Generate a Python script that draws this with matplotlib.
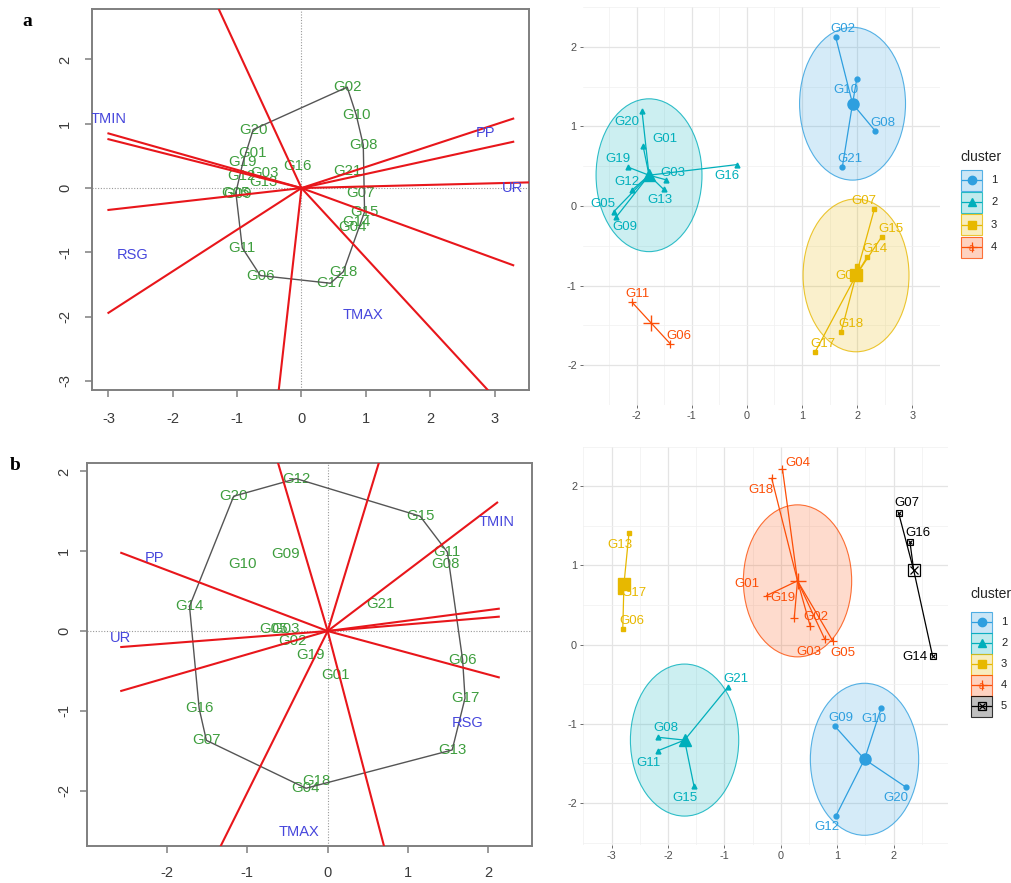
import matplotlib.pyplot as plt
import numpy as np
from matplotlib.patches import Ellipse, Rectangle

plt.rcParams['font.family'] = ['Liberation Sans', 'DejaVu Sans']
plt.rcParams['axes.unicode_minus'] = False

W, H = 1011, 883

genotypes = ['G%02d' % i for i in range(1, 22)]
env_names = ['TMIN', 'PP', 'UR', 'RSG', 'TMAX']

# --- GGE biplot, trial a (genotype scores G01..G21) ---
a_gx = [-0.76, 0.71, -0.58, 0.80, -1.02, -0.64, 0.91, 0.96, -0.99, 0.85, -0.92,
        -0.93, -0.60, 0.85, 0.98, -0.07, 0.45, 0.65, -0.91, -0.75, 0.71]
a_gy = [0.55, 1.57, 0.24, -0.60, -0.07, -1.36, -0.08, 0.67, -0.09, 1.14, -0.93,
        0.18, 0.10, -0.52, -0.37, 0.34, -1.48, -1.30, 0.40, 0.91, 0.27]
a_ex = [-3.00, 2.86, 3.28, -2.62, 0.96]
a_ey = [1.07, 0.86, 0.00, -1.04, -1.97]
# sector rays (end points, from the origin)
a_rx = [-1.28, -3.00, -3.00, -3.00, -3.00, -0.36, 2.95, 3.29, 3.60, 3.29, 3.29]
a_ry = [2.77, 0.85, 0.76, -0.34, -1.94, -3.20, -3.20, -1.20, 0.09, 0.72, 1.08]

# --- GGE biplot, trial b ---
b_gx = [0.10, -0.44, -0.52, -0.27, -0.68, 1.68, -1.51, 1.47, -0.52, -1.06, 1.49,
        -0.39, 1.55, -1.72, 1.15, -1.60, 1.71, -0.14, -0.22, -1.17, 0.66]
b_gy = [-0.55, -0.12, 0.03, -1.97, 0.03, -0.36, -1.37, 0.84, 0.97, 0.84, 0.99,
        1.91, -1.49, 0.31, 1.44, -0.97, -0.84, -1.88, -0.30, 1.69, 0.34]
b_ex = [2.10, -2.16, -2.58, 1.74, -0.36]
b_ey = [1.37, 0.91, -0.09, -1.15, -2.52]
b_rx = [-0.66, 0.68, 2.11, 2.13, 2.13, 2.13, 0.70, -1.33, -2.57, -2.57, -2.57]
b_ry = [2.25, 2.25, 1.61, 0.28, 0.18, -0.58, -2.69, -2.69, -0.75, -0.20, 0.98]

# --- k-means clusters, trial a ---
ka_names = ['G02', 'G10', 'G08', 'G21',
            'G20', 'G01', 'G19', 'G03', 'G16', 'G12', 'G13', 'G05', 'G09',
            'G07', 'G15', 'G14', 'G04', 'G18', 'G17',
            'G11', 'G06']
ka_cl = [1, 1, 1, 1, 2, 2, 2, 2, 2, 2, 2, 2, 2, 3, 3, 3, 3, 3, 3, 4, 4]
ka_x = [1.61, 1.99, 2.33, 1.73, -1.90, -1.88, -2.16, -1.47, -0.18, -2.08, -1.51,
        -2.41, -2.37, 2.31, 2.44, 2.18, 1.99, 1.71, 1.24, -2.08, -1.39]
ka_y = [2.12, 1.59, 0.94, 0.49, 1.19, 0.75, 0.49, 0.33, 0.52, 0.20, 0.21,
        -0.07, -0.14, -0.04, -0.39, -0.64, -0.75, -1.58, -1.83, -1.21, -1.73]
ka_lx = [1.74, 1.80, 2.46, 1.86, -2.18, -1.49, -2.33, -1.35, -0.36, -2.18, -1.58,
         -2.61, -2.22, 2.12, 2.61, 2.32, 1.83, 1.88, 1.37, -1.98, -1.23]
ka_ly = [2.22, 1.46, 1.04, 0.59, 1.05, 0.84, 0.59, 0.42, 0.38, 0.30, 0.08,
         0.03, -0.27, 0.06, -0.29, -0.54, -0.88, -1.48, -1.73, -1.10, -1.63]

# --- k-means clusters, trial b ---
kb_names = ['G09', 'G10', 'G20', 'G12',
            'G21', 'G08', 'G11', 'G15',
            'G13', 'G17', 'G06',
            'G04', 'G18', 'G01', 'G19', 'G02', 'G03', 'G05',
            'G07', 'G16', 'G14']
kb_cl = [1, 1, 1, 1, 2, 2, 2, 2, 3, 3, 3, 4, 4, 4, 4, 4, 4, 4, 5, 5, 5]
kb_x = [0.96, 1.78, 2.22, 0.98, -0.93, -2.17, -2.18, -1.54, -2.69, -2.85, -2.80,
        0.03, -0.16, -0.25, 0.24, 0.52, 0.78, 0.92, 2.09, 2.29, 2.69]
kb_y = [-1.03, -0.80, -1.80, -2.16, -0.53, -1.17, -1.34, -1.78, 1.41, 0.67, 0.20,
        2.22, 2.10, 0.62, 0.34, 0.24, 0.07, 0.05, 1.66, 1.30, -0.14]
kb_lx = [1.06, 1.65, 2.04, 0.81, -0.80, -2.03, -2.35, -1.69, -2.85, -2.60, -2.64,
         0.30, -0.35, -0.60, 0.04, 0.63, 0.49, 1.10, 2.24, 2.44, 2.38]
kb_ly = [-0.92, -0.94, -1.94, -2.30, -0.43, -1.05, -1.49, -1.94, 1.26, 0.65, 0.30,
         2.29, 1.95, 0.77, 0.59, 0.35, -0.09, -0.10, 1.79, 1.41, -0.15]

ellipse_r = 0.96
cl_colors = ['#2E9FDF', '#00AFBB', '#E7B800', '#FC4E07', '#000000']
cl_markers = ['o', '^', 's', '+', 's']

GREEN = '#3E9E3E'
BLUE = '#4646DC'
RED = '#E8161B'


def px_axes(fig, x0, y0, x1, y1):
    return fig.add_axes([x0 / W, 1 - y1 / H, (x1 - x0) / W, (y1 - y0) / H])


def convex_hull(xs, ys):
    pts = sorted(set(zip(xs, ys)))

    def cross(o, a, b):
        return (a[0] - o[0]) * (b[1] - o[1]) - (a[1] - o[1]) * (b[0] - o[0])

    lower, upper = [], []
    for p in pts:
        while len(lower) >= 2 and cross(lower[-2], lower[-1], p) <= 0:
            lower.pop()
        lower.append(p)
    for p in reversed(pts):
        while len(upper) >= 2 and cross(upper[-2], upper[-1], p) <= 0:
            upper.pop()
        upper.append(p)
    hull = lower[:-1] + upper[:-1]
    hull.append(hull[0])
    return np.array(hull)


def biplot(ax, gx, gy, ex, ey, rx, ry, xlim, ylim, xticks, yticks, xpad, ypad):
    ax.axhline(0, color='#999999', lw=0.8, ls=(0, (1, 1.5)), zorder=1)
    ax.axvline(0, color='#999999', lw=0.8, ls=(0, (1, 1.5)), zorder=1)
    for name, x, y in zip(genotypes, gx, gy):
        ax.text(x, y, name, color=GREEN, fontsize=10.8, ha='center', va='center',
                zorder=2)
    hull = convex_hull(gx, gy)
    ax.plot(hull[:, 0], hull[:, 1], color='#555555', lw=1.0, zorder=3)
    for x, y in zip(rx, ry):
        ax.plot([0, x], [0, y], color=RED, lw=1.5, zorder=4)
    for name, x, y in zip(env_names, ex, ey):
        ax.text(x, y, name, color=BLUE, fontsize=10.5, ha='center', va='center',
                zorder=5, clip_on=True)
    ax.set_xlim(*xlim)
    ax.set_ylim(*ylim)
    ax.set_xticks(xticks)
    ax.set_yticks(yticks)
    for s in ax.spines.values():
        s.set_color('#7F7F7F')
        s.set_linewidth(1.4)
    ax.tick_params(direction='out', length=5, width=1.1, color='#7F7F7F',
                   labelsize=10.5, labelcolor='#3A3A3A')
    ax.tick_params(axis='x', pad=xpad)
    ax.tick_params(axis='y', pad=ypad)
    plt.setp(ax.get_yticklabels(), rotation=90, va='center', ha='center')


def cluster_plot(ax, names, cl, x, y, lx, ly, xlim, ylim, xticks, yticks):
    cl = np.array(cl)
    x = np.array(x)
    y = np.array(y)
    for k in np.unique(cl):
        col = cl_colors[k - 1]
        m = cl == k
        cx, cy = x[m].mean(), y[m].mean()
        if m.sum() > 3:
            ax.add_patch(Ellipse((cx, cy), 2 * ellipse_r, 2 * ellipse_r,
                                 facecolor=col, alpha=0.2, lw=0, zorder=1))
            ax.add_patch(Ellipse((cx, cy), 2 * ellipse_r, 2 * ellipse_r,
                                 facecolor='none', edgecolor=col, lw=0.8,
                                 alpha=0.8, zorder=2))
        for px, py in zip(x[m], y[m]):
            ax.plot([cx, px], [cy, py], color=col, lw=0.9, zorder=3)
        mk = cl_markers[k - 1]
        if k == 5:
            ax.plot(x[m], y[m], 's', mfc='none', mec=col, ms=4, mew=0.8, zorder=4)
            ax.plot(x[m], y[m], 'x', color=col, ms=3, mew=0.8, zorder=4)
            ax.plot(cx, cy, 's', mfc='none', mec=col, ms=8, mew=0.9, zorder=4)
            ax.plot(cx, cy, 'x', color=col, ms=6, mew=0.9, zorder=4)
        elif mk == '+':
            ax.plot(x[m], y[m], '+', color=col, ms=6, mew=0.9, zorder=4)
            ax.plot(cx, cy, '+', color=col, ms=12, mew=1.0, zorder=4)
        else:
            ax.plot(x[m], y[m], mk, color=col, ms=3.5, zorder=4)
            ax.plot(cx, cy, mk, color=col, ms=8, zorder=4)
    for name, k, tx, ty in zip(names, cl, lx, ly):
        ax.text(tx, ty, name, color=cl_colors[k - 1], fontsize=9.5, ha='center',
                va='center', zorder=5)
    ax.set_xlim(*xlim)
    ax.set_ylim(*ylim)
    ax.set_xticks(xticks)
    ax.set_yticks(yticks)
    ax.set_xticks(np.arange(xticks[0] - 0.5, xticks[-1] + 1, 1.0), minor=True)
    ax.set_yticks(np.arange(yticks[0] - 0.5, yticks[-1] + 1, 1.0), minor=True)
    ax.grid(which='major', color='#E4E4E4', lw=0.9)
    ax.grid(which='minor', color='#F0F0F0', lw=0.5)
    ax.set_axisbelow(True)
    for s in ax.spines.values():
        s.set_visible(False)
    ax.tick_params(which='major', length=2.5, width=0.6, color='#555555',
                   labelsize=7.8, labelcolor='#4D4D4D', pad=2)
    ax.tick_params(which='minor', length=0)


def cluster_legend(lax, n, x0, y_title, y_keys, size):
    lax.text(x0 - 1, y_title, 'cluster', fontsize=10, color='#222222',
             ha='left', va='center')
    for k in range(n):
        col = cl_colors[k]
        yc = y_keys[k]
        lax.add_patch(Rectangle((x0, yc - size / 2), size, size, facecolor=col,
                                alpha=0.25, edgecolor='none'))
        lax.add_patch(Rectangle((x0, yc - size / 2), size, size, facecolor='none',
                                edgecolor=col, lw=0.8, alpha=0.8))
        lax.plot([x0 + 1, x0 + size - 1], [yc, yc], color=col, lw=0.9)
        mk = cl_markers[k]
        if k == 4:
            lax.plot(x0 + size / 2, yc, 's', mfc='none', mec=col, ms=6, mew=0.9)
            lax.plot(x0 + size / 2, yc, 'x', color=col, ms=4.5, mew=0.9)
        elif mk == '+':
            lax.text(x0 + size / 2, yc + 1, 'a', color=col, fontsize=7,
                     ha='center', va='center')
            lax.plot(x0 + size / 2, yc, '+', color=col, ms=7, mew=0.9)
        else:
            lax.plot(x0 + size / 2, yc, mk, color=col, ms=6)
        lax.text(x0 + size + 9, yc, str(k + 1), fontsize=8, color='#222222',
                 ha='left', va='center')


fig = plt.figure(figsize=(W / 100, H / 100), dpi=100)

ax1 = px_axes(fig, 91.7, 9.3, 529.3, 390)
biplot(ax1, a_gx, a_gy, a_ex, a_ey, a_rx, a_ry, (-3.26, 3.54), (-3.14, 2.78),
       range(-3, 4), range(-3, 3), 11, 14)

ax2 = px_axes(fig, 583, 7, 940, 405)
cluster_plot(ax2, ka_names, ka_cl, ka_x, ka_y, ka_lx, ka_ly, (-2.97, 3.22),
             (-2.06, 2.37), list(range(-2, 4)), list(range(-2, 3)))

ax3 = px_axes(fig, 86.7, 462.7, 531.7, 845.7)
biplot(ax3, b_gx, b_gy, b_ex, b_ey, b_rx, b_ry, (-3.0, 2.54), (-2.69, 2.11),
       range(-2, 3), range(-2, 3), 9.5, 11.3)

ax4 = px_axes(fig, 583.3, 446.7, 948.3, 845)
cluster_plot(ax4, kb_names, kb_cl, kb_x, kb_y, kb_lx, kb_ly, (-3.13, 2.97),
             (-2.53, 2.45), list(range(-3, 3)), list(range(-2, 3)))

lax = fig.add_axes([0, 0, 1, 1])
lax.set_xlim(0, W)
lax.set_ylim(H, 0)
lax.axis('off')
cluster_legend(lax, 4, 961, 157, [180, 202.3, 224.7, 247], 21)
cluster_legend(lax, 5, 971, 594, [622, 643, 664, 685, 706], 21)

fig.text(27 / W, 1 - 22 / H, 'a', family='Liberation Serif', fontweight='bold',
         fontsize=14, ha='center', va='center')
fig.text(15 / W, 1 - 465 / H, 'b', family='Liberation Serif', fontweight='bold',
         fontsize=14, ha='center', va='center')

fig.savefig('out.png', dpi=100)
